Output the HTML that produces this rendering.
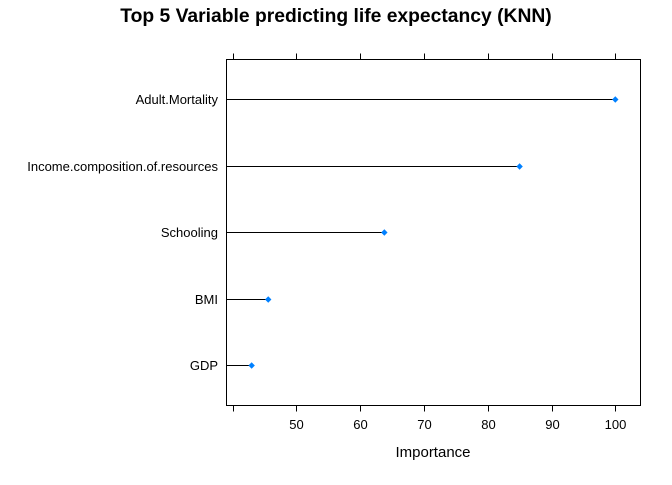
<!DOCTYPE html>
<html><head><meta charset="utf-8"><style>
body{margin:0;background:#fff;font-family:"Liberation Sans",sans-serif;}
</style></head><body>
<svg width="672" height="480" viewBox="0 0 672 480" xmlns="http://www.w3.org/2000/svg" font-family="Liberation Sans, sans-serif">
<rect width="672" height="480" fill="#fff"/>
<text x="336" y="22" text-anchor="middle" font-size="19.3" font-weight="bold">Top 5 Variable predicting life expectancy (KNN)</text>
<rect x="226.5" y="59.5" width="414" height="346" fill="none" stroke="#000" stroke-width="1"/>
<g id="xticks"></g>
<g id="marks"></g>
<text x="433" y="457" text-anchor="middle" font-size="15">Importance</text>
</svg>
<script>
const categories=["Adult.Mortality","Income.composition.of.resources","Schooling","BMI","GDP"];
const values=[100,85,63.8,45.6,43];
const tickValues=[40,50,60,70,80,90,100];
const tickLabels=["","50","60","70","80","90","100"];
const NS="http://www.w3.org/2000/svg";
const x=v=>296.3+(v-50)*6.38;
const yPos=i=>99+i*66.5;
const left=226.5;
const xt=document.getElementById('xticks');
tickValues.forEach((t,i)=>{
  const px=Math.round(x(t))+0.5;
  [[405.5,411.5],[53.5,59.5]].forEach(([a,b])=>{
    const l=document.createElementNS(NS,'line');
    l.setAttribute('x1',px);l.setAttribute('x2',px);l.setAttribute('y1',a);l.setAttribute('y2',b);
    l.setAttribute('stroke','#000');
    
    
    xt.appendChild(l);
  });
  if(tickLabels[i]){
    const tx=document.createElementNS(NS,'text');
    tx.setAttribute('x',px);tx.setAttribute('y',429);tx.setAttribute('text-anchor','middle');tx.setAttribute('font-size','13');
    tx.textContent=tickLabels[i];
    
    
    xt.appendChild(tx);
  }
});
const mk=document.getElementById('marks');
categories.forEach((c,i)=>{
  const y=Math.round(yPos(i))+0.5;
  const l=document.createElementNS(NS,'line');
  l.setAttribute('x1',left);l.setAttribute('x2',x(values[i]));l.setAttribute('y1',y);l.setAttribute('y2',y);
  l.setAttribute('stroke','#000');
  
  
  mk.appendChild(l);
  const d=document.createElementNS(NS,'path');
  const cx=x(values[i]);
  d.setAttribute('d',`M${cx} ${y-3.2}L${cx+3.2} ${y}L${cx} ${y+3.2}L${cx-3.2} ${y}Z`);
  d.setAttribute('fill','#0080ff');
  
  
  mk.appendChild(d);
  const t=document.createElementNS(NS,'text');
  t.setAttribute('x',218);t.setAttribute('y',y+4.5);t.setAttribute('text-anchor','end');t.setAttribute('font-size','13');
  t.textContent=c;
  
  
  mk.appendChild(t);
});
</script>
</body></html>
